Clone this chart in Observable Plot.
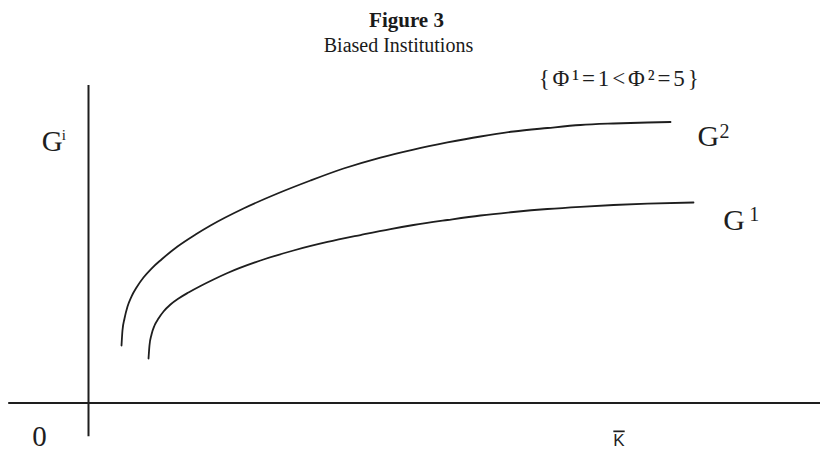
<!DOCTYPE html>
<html>
<head>
<meta charset="utf-8">
<script src="https://cdn.jsdelivr.net/npm/d3@7"></script>
<script src="https://cdn.jsdelivr.net/npm/@observablehq/plot@0.6"></script>
<style>
  html, body { margin: 0; padding: 0; background: #fff; }
  #wrap { width: 827px; height: 461px; position: relative; overflow: hidden; }
  #head { height: 58px; font-family: "Liberation Serif", serif; color: #1a1a1a; text-align: center; }
  #title { font-size: 21px; font-weight: bold; line-height: 24px; padding-top: 8px; position: relative; left: -7px; }
  #subtitle { font-size: 20px; line-height: 24px; margin-top: 1px; position: relative; left: -15px; }
  svg { display: block; }
</style>
</head>
<body>
<div id="wrap">
  <div id="head">
    <div id="title"></div>
    <div id="subtitle"></div>
  </div>
  <div id="chart"></div>
</div>
<script>
// ---- Data (arbitrary units, K̄ on x, G on y) ----
const titleText = "Figure 3";
const subtitleText = "Biased Institutions";
const annotationText = "{Φ¹=1<Φ²=5}";
const yAxisLabel = ["G", "i"];
const xAxisLabel = "K";
const originLabel = "0";
const seriesNames = ["G", "G"];
const seriesSup = ["2", "1"];

// G² curve (upper)
const g2K = [4.51, 4.64, 4.92, 5.33, 5.87, 6.56, 7.51, 8.61, 9.97, 12.16, 14.62, 16.67, 21.17, 25.82, 30.33, 34.84, 39.89, 44.40, 49.04, 53.55, 58.06, 62.70, 67.21, 71.72, 76.37, 79.51];
const g2G = [18.11, 22.83, 26.61, 30.39, 33.54, 36.38, 39.53, 42.36, 45.20, 49.29, 53.07, 55.91, 61.26, 65.98, 70.08, 73.86, 77.32, 79.84, 82.05, 83.94, 85.51, 86.61, 87.56, 88.03, 88.35, 88.50];
// G¹ curve (lower)
const g1K = [8.20, 8.33, 8.61, 9.02, 9.56, 10.25, 11.20, 12.30, 13.66, 15.30, 17.08, 18.99, 23.50, 28.01, 32.65, 37.16, 41.26, 44.40, 49.04, 53.55, 58.06, 62.70, 67.21, 71.72, 76.37, 82.65];
const g1G = [14.02, 18.11, 21.57, 24.41, 26.61, 28.82, 31.02, 32.91, 34.80, 36.85, 38.90, 40.94, 44.88, 48.03, 50.71, 52.91, 54.80, 56.06, 57.64, 59.06, 60.16, 61.10, 61.80, 62.36, 62.77, 63.15];

document.getElementById("title").textContent = titleText;
document.getElementById("subtitle").textContent = subtitleText;

const g2 = g2K.map((k, i) => ({k, g: g2G[i]}));
const g1 = g1K.map((k, i) => ({k, g: g1G[i]}));

const ink = "#1e1e1e";
const serif = "Liberation Serif, Times New Roman, serif";

const chart = Plot.plot({
  width: 827,
  height: 403,
  marginLeft: 88,
  marginRight: 7,
  marginTop: 27,
  marginBottom: 58.5,
  x: {domain: [0, 100], axis: null},
  y: {domain: [0, 100], axis: null},
  style: {background: "#fff"},
  marks: [
    // axes
    Plot.ruleY([0], {x1: () => -10.9, x2: () => 100, stroke: ink, strokeWidth: 2}),
    Plot.ruleX([0], {y1: () => -10.6, y2: () => 100, stroke: ink, strokeWidth: 2}),
    // curves
    Plot.line(g2, {x: "k", y: "g", curve: "monotone-x", stroke: ink, strokeWidth: 1.8}),
    Plot.line(g1, {x: "k", y: "g", curve: "monotone-x", stroke: ink, strokeWidth: 1.8}),
    // curve labels
    Plot.text([seriesNames[0]], {x: () => 83.2, y: () => 80.9, text: d => d, textAnchor: "start", lineAnchor: "bottom", fontFamily: serif, fontSize: 30, fill: ink}),
    Plot.text([seriesSup[0]], {x: () => 83.2, y: () => 80.9, dx: 22, dy: -8, text: d => d, textAnchor: "start", lineAnchor: "bottom", fontFamily: serif, fontSize: 20, fill: ink}),
    Plot.text([seriesNames[1]], {x: () => 86.7, y: () => 54.6, text: d => d, textAnchor: "start", lineAnchor: "bottom", fontFamily: serif, fontSize: 30, fill: ink}),
    Plot.text([seriesSup[1]], {x: () => 86.7, y: () => 54.6, dx: 26, dy: -9, text: d => d, textAnchor: "start", lineAnchor: "bottom", fontFamily: serif, fontSize: 20, fill: ink}),
    // annotation
    Plot.text([annotationText], {x: () => 61.5, y: () => 100, text: d => d, textAnchor: "start", lineAnchor: "bottom", fontFamily: serif, fontSize: 23, fill: ink}),
    // y label
    Plot.text([yAxisLabel[0]], {x: () => -6.4, y: () => 79.5, text: d => d, textAnchor: "start", lineAnchor: "bottom", fontFamily: serif, fontSize: 29, fill: ink}),
    Plot.text([yAxisLabel[1]], {x: () => -6.4, y: () => 79.5, dx: 20, dy: -11, text: d => d, textAnchor: "start", lineAnchor: "bottom", fontFamily: serif, fontSize: 15, fill: ink}),
    // origin and x label
    Plot.text([originLabel], {x: () => -6.7, y: () => -13.7, text: d => d, textAnchor: "middle", lineAnchor: "bottom", fontFamily: serif, fontSize: 29, fill: ink}),
    Plot.text([xAxisLabel], {x: () => 71.7, y: () => -13.7, text: d => d, textAnchor: "start", lineAnchor: "bottom", fontFamily: "Liberation Sans, DejaVu Sans, sans-serif", fontSize: 17, fill: ink})
  ]
});

// overline on K (K̄)
d3.select(chart).selectAll("text").filter(function() { return this.textContent === xAxisLabel; })
  .style("text-decoration", "overline").style("font-weight", "300");
// stretch the annotation to the width it has in the figure
d3.select(chart).selectAll("text").filter(function() { return this.textContent === annotationText; })
  .attr("textLength", 160).attr("lengthAdjust", "spacing");

document.getElementById("chart").appendChild(chart);
</script>
</body>
</html>
